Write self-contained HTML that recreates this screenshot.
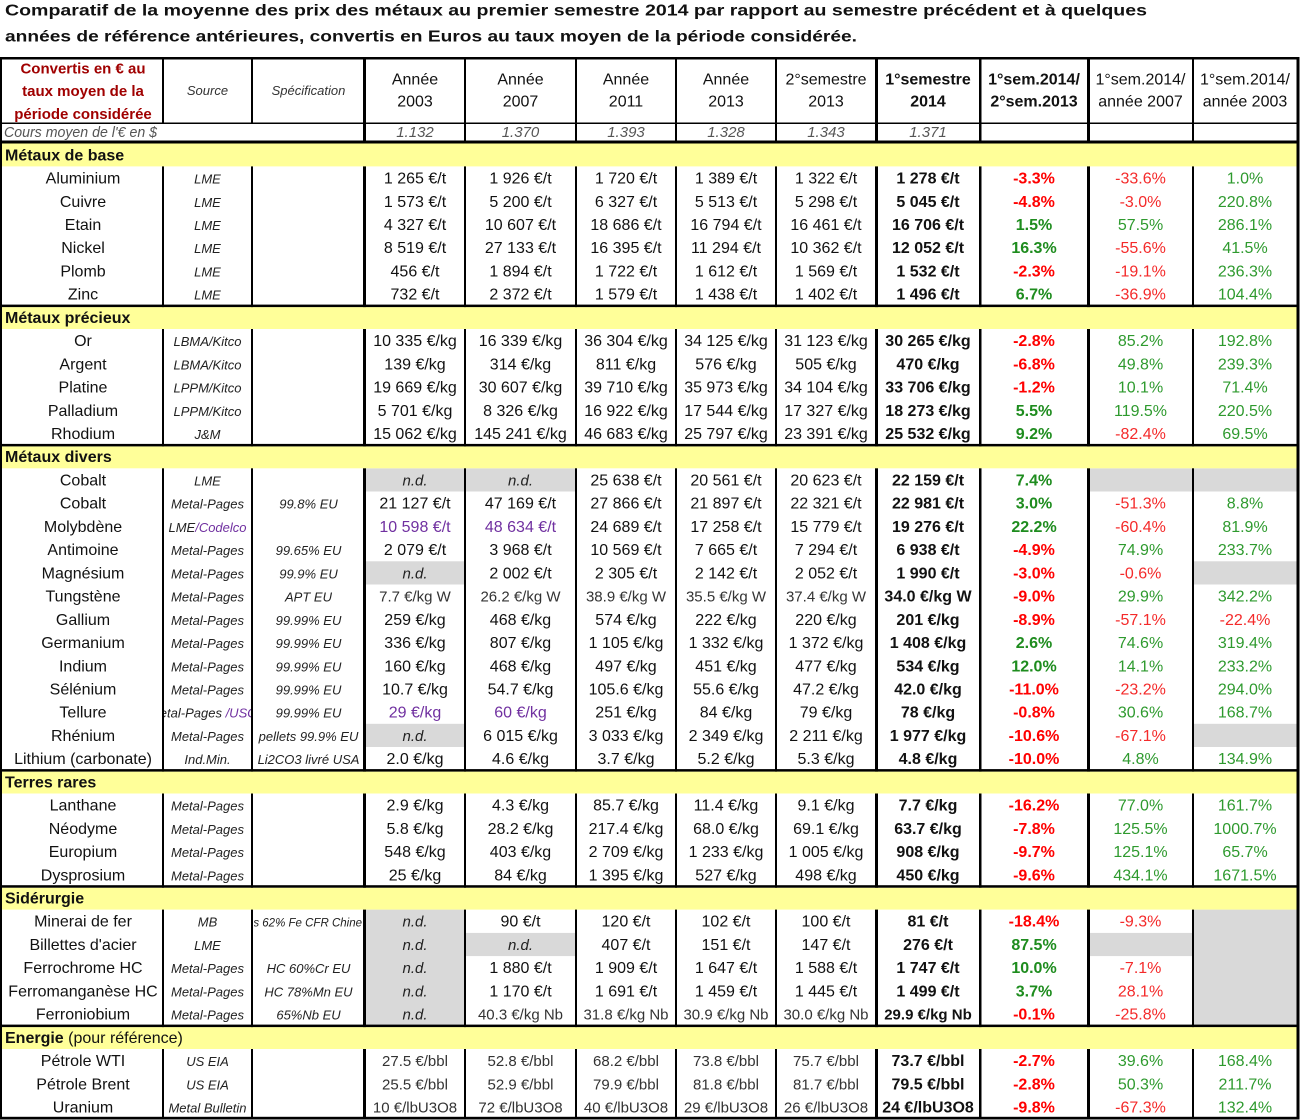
<!DOCTYPE html>
<html><head><meta charset="utf-8">
<style>
html,body{margin:0;padding:0;background:#fff;width:1304px;height:1120px;overflow:hidden}
svg{display:block;font-family:"Liberation Sans",sans-serif}
text{font-size:16px;fill:#111}
.s{font-style:italic;font-size:13px;fill:#222}
.b{font-weight:bold}
.R{fill:#ff0000;font-weight:bold}
.G{fill:#1e8c1e;font-weight:bold}
.r{fill:#f42a2a}
.g{fill:#2e9a2e}
.p{fill:#7030a0}
.lt{font-size:15px;fill:#333}
.nd{font-style:italic;font-size:15px;fill:#222}
.sec{font-weight:bold}
.cv{font-style:italic;font-size:15px;fill:#555}
</style></head>
<body>
<svg width="1304" height="1120" viewBox="0 0 1304 1120" xmlns="http://www.w3.org/2000/svg">
<defs>
<clipPath id="c2"><rect x="164" y="0" width="87" height="1120"/></clipPath>
<clipPath id="c3"><rect x="254" y="0" width="109" height="1120"/></clipPath>
</defs>
<rect x="0" y="0" width="1304" height="1120" fill="#fff"/>

<!-- Title -->
<text x="5" y="15.5" font-size="17" font-weight="bold" textLength="1142" lengthAdjust="spacingAndGlyphs">Comparatif de la moyenne des prix des métaux au premier semestre 2014 par rapport au semestre précédent et à quelques</text>
<text x="5" y="41.5" font-size="17" font-weight="bold" textLength="852" lengthAdjust="spacingAndGlyphs">années de référence antérieures, convertis en Euros au taux moyen de la période considérée.</text>

<!-- Gray cells -->
<g fill="#d9d9d9">
<rect x="366" y="468.3" width="98" height="23.2"/>
<rect x="466" y="468.3" width="109" height="23.2"/>
<rect x="1090" y="468.3" width="102" height="23.2"/>
<rect x="1194" y="468.3" width="102.5" height="23.2"/>
<rect x="366" y="561.3" width="98" height="23.2"/>
<rect x="1194" y="561.3" width="102.5" height="23.2"/>
<rect x="366" y="723.8" width="98" height="23.2"/>
<rect x="1194" y="723.8" width="102.5" height="23.2"/>
<rect x="366" y="909.6" width="98" height="115.5"/>
<rect x="1194" y="909.6" width="102.5" height="115.5"/>
<rect x="466" y="932.9" width="109" height="23.2"/>
<rect x="1090" y="932.9" width="102" height="23.2"/>
</g>

<!-- Vertical lines -->
<g fill="#000">
<rect x="0" y="57" width="2" height="1062"/>
<rect x="162" y="57" width="2" height="1062"/>
<rect x="251" y="57" width="2" height="1062"/>
<rect x="363" y="57" width="3" height="1062"/>
<rect x="464" y="57" width="2" height="1062"/>
<rect x="575" y="57" width="2" height="1062"/>
<rect x="675" y="57" width="2" height="1062"/>
<rect x="775" y="57" width="2" height="1062"/>
<rect x="875" y="57" width="3" height="1062"/>
<rect x="979" y="57" width="2.5" height="1062"/>
<rect x="1087" y="57" width="3" height="1062"/>
<rect x="1192" y="57" width="2" height="1062"/>
</g>

<!-- Cours row cover for merged cell -->
<rect x="2" y="124" width="361" height="16.5" fill="#fff"/>

<!-- Yellow section rows -->
<g fill="#ffff99">
<rect x="2" y="143.3" width="1294.5" height="23.1"/>
<rect x="2" y="307.1" width="1294.5" height="21.9"/>
<rect x="2" y="446.4" width="1294.5" height="21.9"/>
<rect x="2" y="771.6" width="1294.5" height="21.9"/>
<rect x="2" y="887.7" width="1294.5" height="21.9"/>
<rect x="2" y="1027.1" width="1294.5" height="21.9"/>
</g>

<!-- Horizontal lines -->
<g fill="#000">
<rect x="0" y="57" width="1299.5" height="2.5"/>
<rect x="0" y="122.5" width="1299" height="1.5"/>
<rect x="0" y="140.5" width="1299" height="3"/>
<rect x="0" y="304.6" width="1299" height="2.5"/>
<rect x="0" y="443.9" width="1299" height="2.5"/>
<rect x="0" y="769.1" width="1299" height="2.5"/>
<rect x="0" y="885.2" width="1299" height="2.5"/>
<rect x="0" y="1024.6" width="1299" height="2.5"/>
<rect x="0" y="1116.8" width="1299.5" height="2.7"/>
<rect x="1296.5" y="57" width="3" height="1062.5"/>
</g>

<!-- Header -->
<text text-anchor="middle" font-size="15" font-weight="bold" style="fill:#a00000;font-size:15px"><tspan x="83" y="73.5">Convertis en € au</tspan><tspan x="83" y="96">taux moyen de la</tspan><tspan x="83" y="119">période considérée</tspan></text>
<text text-anchor="middle" y="95"><tspan x="207.5" class="s" style="fill:#333">Source</tspan><tspan x="308.5" class="s" style="fill:#333">Spécification</tspan></text>
<text text-anchor="middle" y="84.5"><tspan x="415">Année</tspan><tspan x="520.5">Année</tspan><tspan x="626">Année</tspan><tspan x="726">Année</tspan><tspan x="826">2°semestre</tspan><tspan x="928" class="b">1°semestre</tspan><tspan x="1034" class="b">1°sem.2014/</tspan><tspan x="1140.5">1°sem.2014/</tspan><tspan x="1245">1°sem.2014/</tspan></text>
<text text-anchor="middle" y="106.5"><tspan x="415">2003</tspan><tspan x="520.5">2007</tspan><tspan x="626">2011</tspan><tspan x="726">2013</tspan><tspan x="826">2013</tspan><tspan x="928" class="b">2014</tspan><tspan x="1034" class="b">2°sem.2013</tspan><tspan x="1140.5">année 2007</tspan><tspan x="1245">année 2003</tspan></text>

<!-- Cours row -->
<text x="4" y="137" class="cv" textLength="153" lengthAdjust="spacingAndGlyphs">Cours moyen de l'€ en $</text>
<text text-anchor="middle" y="137" class="cv"><tspan x="415">1.132</tspan><tspan x="520.5">1.370</tspan><tspan x="626">1.393</tspan><tspan x="726">1.328</tspan><tspan x="826">1.343</tspan><tspan x="928">1.371</tspan></text>

<!-- Section headers -->
<text x="5" y="160.3" class="sec">Métaux de base</text>
<text x="5" y="322.9" class="sec">Métaux précieux</text>
<text x="5" y="462.2" class="sec">Métaux divers</text>
<text x="5" y="787.4" class="sec">Terres rares</text>
<text x="5" y="903.5" class="sec">Sidérurgie</text>
<text x="5" y="1042.9" class="sec">Energie <tspan style="font-weight:normal">(pour référence)</tspan></text>

<!-- Data rows -->
<g text-anchor="middle">
<text y="183.5"><tspan x="83">Aluminium</tspan><tspan x="207.5" class="s">LME</tspan><tspan x="415">1 265 €/t</tspan><tspan x="520.5">1 926 €/t</tspan><tspan x="626">1 720 €/t</tspan><tspan x="726">1 389 €/t</tspan><tspan x="826">1 322 €/t</tspan><tspan x="928" class="b">1 278 €/t</tspan><tspan x="1034" class="R">-3.3%</tspan><tspan x="1140.5" class="r">-33.6%</tspan><tspan x="1245" class="g">1.0%</tspan></text>
<text y="206.8"><tspan x="83">Cuivre</tspan><tspan x="207.5" class="s">LME</tspan><tspan x="415">1 573 €/t</tspan><tspan x="520.5">5 200 €/t</tspan><tspan x="626">6 327 €/t</tspan><tspan x="726">5 513 €/t</tspan><tspan x="826">5 298 €/t</tspan><tspan x="928" class="b">5 045 €/t</tspan><tspan x="1034" class="R">-4.8%</tspan><tspan x="1140.5" class="r">-3.0%</tspan><tspan x="1245" class="g">220.8%</tspan></text>
<text y="230.0"><tspan x="83">Etain</tspan><tspan x="207.5" class="s">LME</tspan><tspan x="415">4 327 €/t</tspan><tspan x="520.5">10 607 €/t</tspan><tspan x="626">18 686 €/t</tspan><tspan x="726">16 794 €/t</tspan><tspan x="826">16 461 €/t</tspan><tspan x="928" class="b">16 706 €/t</tspan><tspan x="1034" class="G">1.5%</tspan><tspan x="1140.5" class="g">57.5%</tspan><tspan x="1245" class="g">286.1%</tspan></text>
<text y="253.2"><tspan x="83">Nickel</tspan><tspan x="207.5" class="s">LME</tspan><tspan x="415">8 519 €/t</tspan><tspan x="520.5">27 133 €/t</tspan><tspan x="626">16 395 €/t</tspan><tspan x="726">11 294 €/t</tspan><tspan x="826">10 362 €/t</tspan><tspan x="928" class="b">12 052 €/t</tspan><tspan x="1034" class="G">16.3%</tspan><tspan x="1140.5" class="r">-55.6%</tspan><tspan x="1245" class="g">41.5%</tspan></text>
<text y="276.4"><tspan x="83">Plomb</tspan><tspan x="207.5" class="s">LME</tspan><tspan x="415">456 €/t</tspan><tspan x="520.5">1 894 €/t</tspan><tspan x="626">1 722 €/t</tspan><tspan x="726">1 612 €/t</tspan><tspan x="826">1 569 €/t</tspan><tspan x="928" class="b">1 532 €/t</tspan><tspan x="1034" class="R">-2.3%</tspan><tspan x="1140.5" class="r">-19.1%</tspan><tspan x="1245" class="g">236.3%</tspan></text>
<text y="299.7"><tspan x="83">Zinc</tspan><tspan x="207.5" class="s">LME</tspan><tspan x="415">732 €/t</tspan><tspan x="520.5">2 372 €/t</tspan><tspan x="626">1 579 €/t</tspan><tspan x="726">1 438 €/t</tspan><tspan x="826">1 402 €/t</tspan><tspan x="928" class="b">1 496 €/t</tspan><tspan x="1034" class="G">6.7%</tspan><tspan x="1140.5" class="r">-36.9%</tspan><tspan x="1245" class="g">104.4%</tspan></text>

<text y="346.1"><tspan x="83">Or</tspan><tspan x="207.5" class="s">LBMA/Kitco</tspan><tspan x="415">10 335 €/kg</tspan><tspan x="520.5">16 339 €/kg</tspan><tspan x="626">36 304 €/kg</tspan><tspan x="726">34 125 €/kg</tspan><tspan x="826">31 123 €/kg</tspan><tspan x="928" class="b">30 265 €/kg</tspan><tspan x="1034" class="R">-2.8%</tspan><tspan x="1140.5" class="g">85.2%</tspan><tspan x="1245" class="g">192.8%</tspan></text>
<text y="369.3"><tspan x="83">Argent</tspan><tspan x="207.5" class="s">LBMA/Kitco</tspan><tspan x="415">139 €/kg</tspan><tspan x="520.5">314 €/kg</tspan><tspan x="626">811 €/kg</tspan><tspan x="726">576 €/kg</tspan><tspan x="826">505 €/kg</tspan><tspan x="928" class="b">470 €/kg</tspan><tspan x="1034" class="R">-6.8%</tspan><tspan x="1140.5" class="g">49.8%</tspan><tspan x="1245" class="g">239.3%</tspan></text>
<text y="392.6"><tspan x="83">Platine</tspan><tspan x="207.5" class="s">LPPM/Kitco</tspan><tspan x="415">19 669 €/kg</tspan><tspan x="520.5">30 607 €/kg</tspan><tspan x="626">39 710 €/kg</tspan><tspan x="726">35 973 €/kg</tspan><tspan x="826">34 104 €/kg</tspan><tspan x="928" class="b">33 706 €/kg</tspan><tspan x="1034" class="R">-1.2%</tspan><tspan x="1140.5" class="g">10.1%</tspan><tspan x="1245" class="g">71.4%</tspan></text>
<text y="415.8"><tspan x="83">Palladium</tspan><tspan x="207.5" class="s">LPPM/Kitco</tspan><tspan x="415">5 701 €/kg</tspan><tspan x="520.5">8 326 €/kg</tspan><tspan x="626">16 922 €/kg</tspan><tspan x="726">17 544 €/kg</tspan><tspan x="826">17 327 €/kg</tspan><tspan x="928" class="b">18 273 €/kg</tspan><tspan x="1034" class="G">5.5%</tspan><tspan x="1140.5" class="g">119.5%</tspan><tspan x="1245" class="g">220.5%</tspan></text>
<text y="439.0"><tspan x="83">Rhodium</tspan><tspan x="207.5" class="s">J&amp;M</tspan><tspan x="415">15 062 €/kg</tspan><tspan x="520.5">145 241 €/kg</tspan><tspan x="626">46 683 €/kg</tspan><tspan x="726">25 797 €/kg</tspan><tspan x="826">23 391 €/kg</tspan><tspan x="928" class="b">25 532 €/kg</tspan><tspan x="1034" class="G">9.2%</tspan><tspan x="1140.5" class="r">-82.4%</tspan><tspan x="1245" class="g">69.5%</tspan></text>

<text y="485.5"><tspan x="83">Cobalt</tspan><tspan x="207.5" class="s">LME</tspan><tspan x="415" class="nd">n.d.</tspan><tspan x="520.5" class="nd">n.d.</tspan><tspan x="626">25 638 €/t</tspan><tspan x="726">20 561 €/t</tspan><tspan x="826">20 623 €/t</tspan><tspan x="928" class="b">22 159 €/t</tspan><tspan x="1034" class="G">7.4%</tspan></text>
<text y="508.7"><tspan x="83">Cobalt</tspan><tspan x="207.5" class="s">Metal-Pages</tspan><tspan x="308.5" class="s">99.8% EU</tspan><tspan x="415">21 127 €/t</tspan><tspan x="520.5">47 169 €/t</tspan><tspan x="626">27 866 €/t</tspan><tspan x="726">21 897 €/t</tspan><tspan x="826">22 321 €/t</tspan><tspan x="928" class="b">22 981 €/t</tspan><tspan x="1034" class="G">3.0%</tspan><tspan x="1140.5" class="r">-51.3%</tspan><tspan x="1245" class="g">8.8%</tspan></text>
<text y="531.9"><tspan x="83">Molybdène</tspan><tspan x="207.5" class="s">LME<tspan class="p">/Codelco</tspan></tspan><tspan x="415" class="p">10 598 €/t</tspan><tspan x="520.5" class="p">48 634 €/t</tspan><tspan x="626">24 689 €/t</tspan><tspan x="726">17 258 €/t</tspan><tspan x="826">15 779 €/t</tspan><tspan x="928" class="b">19 276 €/t</tspan><tspan x="1034" class="G">22.2%</tspan><tspan x="1140.5" class="r">-60.4%</tspan><tspan x="1245" class="g">81.9%</tspan></text>
<text y="555.1"><tspan x="83">Antimoine</tspan><tspan x="207.5" class="s">Metal-Pages</tspan><tspan x="308.5" class="s">99.65% EU</tspan><tspan x="415">2 079 €/t</tspan><tspan x="520.5">3 968 €/t</tspan><tspan x="626">10 569 €/t</tspan><tspan x="726">7 665 €/t</tspan><tspan x="826">7 294 €/t</tspan><tspan x="928" class="b">6 938 €/t</tspan><tspan x="1034" class="R">-4.9%</tspan><tspan x="1140.5" class="g">74.9%</tspan><tspan x="1245" class="g">233.7%</tspan></text>
<text y="578.4"><tspan x="83">Magnésium</tspan><tspan x="207.5" class="s">Metal-Pages</tspan><tspan x="308.5" class="s">99.9% EU</tspan><tspan x="415" class="nd">n.d.</tspan><tspan x="520.5">2 002 €/t</tspan><tspan x="626">2 305 €/t</tspan><tspan x="726">2 142 €/t</tspan><tspan x="826">2 052 €/t</tspan><tspan x="928" class="b">1 990 €/t</tspan><tspan x="1034" class="R">-3.0%</tspan><tspan x="1140.5" class="r">-0.6%</tspan></text>
<text y="601.6"><tspan x="83">Tungstène</tspan><tspan x="207.5" class="s">Metal-Pages</tspan><tspan x="308.5" class="s">APT EU</tspan><tspan x="415" class="lt">7.7 €/kg W</tspan><tspan x="520.5" class="lt">26.2 €/kg W</tspan><tspan x="626" class="lt">38.9 €/kg W</tspan><tspan x="726" class="lt">35.5 €/kg W</tspan><tspan x="826" class="lt">37.4 €/kg W</tspan><tspan x="928" class="b">34.0 €/kg W</tspan><tspan x="1034" class="R">-9.0%</tspan><tspan x="1140.5" class="g">29.9%</tspan><tspan x="1245" class="g">342.2%</tspan></text>
<text y="624.8"><tspan x="83">Gallium</tspan><tspan x="207.5" class="s">Metal-Pages</tspan><tspan x="308.5" class="s">99.99% EU</tspan><tspan x="415">259 €/kg</tspan><tspan x="520.5">468 €/kg</tspan><tspan x="626">574 €/kg</tspan><tspan x="726">222 €/kg</tspan><tspan x="826">220 €/kg</tspan><tspan x="928" class="b">201 €/kg</tspan><tspan x="1034" class="R">-8.9%</tspan><tspan x="1140.5" class="r">-57.1%</tspan><tspan x="1245" class="r">-22.4%</tspan></text>
<text y="648.0"><tspan x="83">Germanium</tspan><tspan x="207.5" class="s">Metal-Pages</tspan><tspan x="308.5" class="s">99.99% EU</tspan><tspan x="415">336 €/kg</tspan><tspan x="520.5">807 €/kg</tspan><tspan x="626">1 105 €/kg</tspan><tspan x="726">1 332 €/kg</tspan><tspan x="826">1 372 €/kg</tspan><tspan x="928" class="b">1 408 €/kg</tspan><tspan x="1034" class="G">2.6%</tspan><tspan x="1140.5" class="g">74.6%</tspan><tspan x="1245" class="g">319.4%</tspan></text>
<text y="671.3"><tspan x="83">Indium</tspan><tspan x="207.5" class="s">Metal-Pages</tspan><tspan x="308.5" class="s">99.99% EU</tspan><tspan x="415">160 €/kg</tspan><tspan x="520.5">468 €/kg</tspan><tspan x="626">497 €/kg</tspan><tspan x="726">451 €/kg</tspan><tspan x="826">477 €/kg</tspan><tspan x="928" class="b">534 €/kg</tspan><tspan x="1034" class="G">12.0%</tspan><tspan x="1140.5" class="g">14.1%</tspan><tspan x="1245" class="g">233.2%</tspan></text>
<text y="694.5"><tspan x="83">Sélénium</tspan><tspan x="207.5" class="s">Metal-Pages</tspan><tspan x="308.5" class="s">99.99% EU</tspan><tspan x="415">10.7 €/kg</tspan><tspan x="520.5">54.7 €/kg</tspan><tspan x="626">105.6 €/kg</tspan><tspan x="726">55.6 €/kg</tspan><tspan x="826">47.2 €/kg</tspan><tspan x="928" class="b">42.0 €/kg</tspan><tspan x="1034" class="R">-11.0%</tspan><tspan x="1140.5" class="r">-23.2%</tspan><tspan x="1245" class="g">294.0%</tspan></text>
<text y="717.7"><tspan x="83">Tellure</tspan><tspan x="308.5" class="s">99.99% EU</tspan><tspan x="415" class="p">29 €/kg</tspan><tspan x="520.5" class="p">60 €/kg</tspan><tspan x="626">251 €/kg</tspan><tspan x="726">84 €/kg</tspan><tspan x="826">79 €/kg</tspan><tspan x="928" class="b">78 €/kg</tspan><tspan x="1034" class="R">-0.8%</tspan><tspan x="1140.5" class="g">30.6%</tspan><tspan x="1245" class="g">168.7%</tspan></text>
<text y="740.9"><tspan x="83">Rhénium</tspan><tspan x="207.5" class="s">Metal-Pages</tspan><tspan x="308.5" class="s">pellets 99.9% EU</tspan><tspan x="415" class="nd">n.d.</tspan><tspan x="520.5">6 015 €/kg</tspan><tspan x="626">3 033 €/kg</tspan><tspan x="726">2 349 €/kg</tspan><tspan x="826">2 211 €/kg</tspan><tspan x="928" class="b">1 977 €/kg</tspan><tspan x="1034" class="R">-10.6%</tspan><tspan x="1140.5" class="r">-67.1%</tspan></text>
<text y="764.2"><tspan x="83">Lithium (carbonate)</tspan><tspan x="207.5" class="s">Ind.Min.</tspan><tspan x="308.5" class="s">Li2CO3 livré USA</tspan><tspan x="415">2.0 €/kg</tspan><tspan x="520.5">4.6 €/kg</tspan><tspan x="626">3.7 €/kg</tspan><tspan x="726">5.2 €/kg</tspan><tspan x="826">5.3 €/kg</tspan><tspan x="928" class="b">4.8 €/kg</tspan><tspan x="1034" class="R">-10.0%</tspan><tspan x="1140.5" class="g">4.8%</tspan><tspan x="1245" class="g">134.9%</tspan></text>

<text y="810.6"><tspan x="83">Lanthane</tspan><tspan x="207.5" class="s">Metal-Pages</tspan><tspan x="415">2.9 €/kg</tspan><tspan x="520.5">4.3 €/kg</tspan><tspan x="626">85.7 €/kg</tspan><tspan x="726">11.4 €/kg</tspan><tspan x="826">9.1 €/kg</tspan><tspan x="928" class="b">7.7 €/kg</tspan><tspan x="1034" class="R">-16.2%</tspan><tspan x="1140.5" class="g">77.0%</tspan><tspan x="1245" class="g">161.7%</tspan></text>
<text y="833.8"><tspan x="83">Néodyme</tspan><tspan x="207.5" class="s">Metal-Pages</tspan><tspan x="415">5.8 €/kg</tspan><tspan x="520.5">28.2 €/kg</tspan><tspan x="626">217.4 €/kg</tspan><tspan x="726">68.0 €/kg</tspan><tspan x="826">69.1 €/kg</tspan><tspan x="928" class="b">63.7 €/kg</tspan><tspan x="1034" class="R">-7.8%</tspan><tspan x="1140.5" class="g">125.5%</tspan><tspan x="1245" class="g">1000.7%</tspan></text>
<text y="857.1"><tspan x="83">Europium</tspan><tspan x="207.5" class="s">Metal-Pages</tspan><tspan x="415">548 €/kg</tspan><tspan x="520.5">403 €/kg</tspan><tspan x="626">2 709 €/kg</tspan><tspan x="726">1 233 €/kg</tspan><tspan x="826">1 005 €/kg</tspan><tspan x="928" class="b">908 €/kg</tspan><tspan x="1034" class="R">-9.7%</tspan><tspan x="1140.5" class="g">125.1%</tspan><tspan x="1245" class="g">65.7%</tspan></text>
<text y="880.3"><tspan x="83">Dysprosium</tspan><tspan x="207.5" class="s">Metal-Pages</tspan><tspan x="415">25 €/kg</tspan><tspan x="520.5">84 €/kg</tspan><tspan x="626">1 395 €/kg</tspan><tspan x="726">527 €/kg</tspan><tspan x="826">498 €/kg</tspan><tspan x="928" class="b">450 €/kg</tspan><tspan x="1034" class="R">-9.6%</tspan><tspan x="1140.5" class="g">434.1%</tspan><tspan x="1245" class="g">1671.5%</tspan></text>

<text y="926.7"><tspan x="83">Minerai de fer</tspan><tspan x="207.5" class="s">MB</tspan><tspan x="415" class="nd">n.d.</tspan><tspan x="520.5">90 €/t</tspan><tspan x="626">120 €/t</tspan><tspan x="726">102 €/t</tspan><tspan x="826">100 €/t</tspan><tspan x="928" class="b">81 €/t</tspan><tspan x="1034" class="R">-18.4%</tspan><tspan x="1140.5" class="r">-9.3%</tspan></text>
<text y="950.0"><tspan x="83">Billettes d'acier</tspan><tspan x="207.5" class="s">LME</tspan><tspan x="415" class="nd">n.d.</tspan><tspan x="520.5" class="nd">n.d.</tspan><tspan x="626">407 €/t</tspan><tspan x="726">151 €/t</tspan><tspan x="826">147 €/t</tspan><tspan x="928" class="b">276 €/t</tspan><tspan x="1034" class="G">87.5%</tspan></text>
<text y="973.2"><tspan x="83">Ferrochrome HC</tspan><tspan x="207.5" class="s">Metal-Pages</tspan><tspan x="308.5" class="s">HC 60%Cr EU</tspan><tspan x="415" class="nd">n.d.</tspan><tspan x="520.5">1 880 €/t</tspan><tspan x="626">1 909 €/t</tspan><tspan x="726">1 647 €/t</tspan><tspan x="826">1 588 €/t</tspan><tspan x="928" class="b">1 747 €/t</tspan><tspan x="1034" class="G">10.0%</tspan><tspan x="1140.5" class="r">-7.1%</tspan></text>
<text y="996.4"><tspan x="83">Ferromanganèse HC</tspan><tspan x="207.5" class="s">Metal-Pages</tspan><tspan x="308.5" class="s">HC 78%Mn EU</tspan><tspan x="415" class="nd">n.d.</tspan><tspan x="520.5">1 170 €/t</tspan><tspan x="626">1 691 €/t</tspan><tspan x="726">1 459 €/t</tspan><tspan x="826">1 445 €/t</tspan><tspan x="928" class="b">1 499 €/t</tspan><tspan x="1034" class="G">3.7%</tspan><tspan x="1140.5" class="r">28.1%</tspan></text>
<text y="1019.6"><tspan x="83">Ferroniobium</tspan><tspan x="207.5" class="s">Metal-Pages</tspan><tspan x="308.5" class="s">65%Nb EU</tspan><tspan x="415" class="nd">n.d.</tspan><tspan x="520.5" class="lt">40.3 €/kg Nb</tspan><tspan x="626" class="lt">31.8 €/kg Nb</tspan><tspan x="726" class="lt">30.9 €/kg Nb</tspan><tspan x="826" class="lt">30.0 €/kg Nb</tspan><tspan x="928" class="b" style="font-size:15px">29.9 €/kg Nb</tspan><tspan x="1034" class="R">-0.1%</tspan><tspan x="1140.5" class="r">-25.8%</tspan></text>

<text y="1066.1"><tspan x="83">Pétrole WTI</tspan><tspan x="207.5" class="s">US EIA</tspan><tspan x="415" class="lt">27.5 €/bbl</tspan><tspan x="520.5" class="lt">52.8 €/bbl</tspan><tspan x="626" class="lt">68.2 €/bbl</tspan><tspan x="726" class="lt">73.8 €/bbl</tspan><tspan x="826" class="lt">75.7 €/bbl</tspan><tspan x="928" class="b">73.7 €/bbl</tspan><tspan x="1034" class="R">-2.7%</tspan><tspan x="1140.5" class="g">39.6%</tspan><tspan x="1245" class="g">168.4%</tspan></text>
<text y="1089.3"><tspan x="83">Pétrole Brent</tspan><tspan x="207.5" class="s">US EIA</tspan><tspan x="415" class="lt">25.5 €/bbl</tspan><tspan x="520.5" class="lt">52.9 €/bbl</tspan><tspan x="626" class="lt">79.9 €/bbl</tspan><tspan x="726" class="lt">81.8 €/bbl</tspan><tspan x="826" class="lt">81.7 €/bbl</tspan><tspan x="928" class="b">79.5 €/bbl</tspan><tspan x="1034" class="R">-2.8%</tspan><tspan x="1140.5" class="g">50.3%</tspan><tspan x="1245" class="g">211.7%</tspan></text>
<text y="1112.5"><tspan x="83">Uranium</tspan><tspan x="207.5" class="s">Metal Bulletin</tspan><tspan x="415" class="lt">10 €/lbU3O8</tspan><tspan x="520.5" class="lt">72 €/lbU3O8</tspan><tspan x="626" class="lt">40 €/lbU3O8</tspan><tspan x="726" class="lt">29 €/lbU3O8</tspan><tspan x="826" class="lt">26 €/lbU3O8</tspan><tspan x="928" class="b">24 €/lbU3O8</tspan><tspan x="1034" class="R">-9.8%</tspan><tspan x="1140.5" class="r">-67.3%</tspan><tspan x="1245" class="g">132.4%</tspan></text>
</g>

<!-- Clipped cells -->
<text clip-path="url(#c2)" x="207.5" y="717.7" text-anchor="middle" class="s">Metal-Pages <tspan class="p">/USGS</tspan></text>
<text clip-path="url(#c3)" x="362" y="926.7" text-anchor="end" class="s" style="font-size:11.5px">Fines 62% Fe CFR Chine</text>
</svg>
</body></html>
